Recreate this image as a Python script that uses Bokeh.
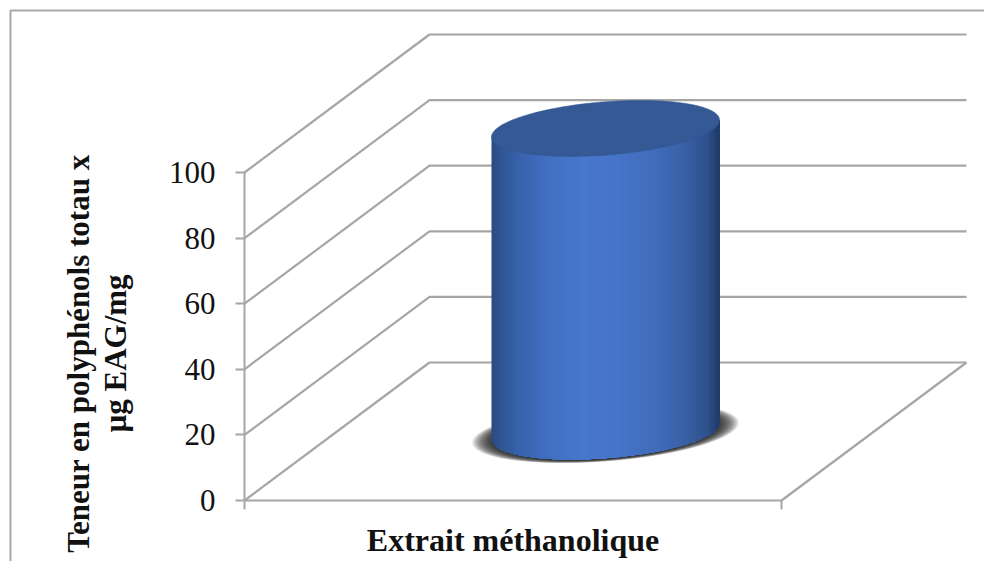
import numpy as np
from bokeh.core.properties import value
from bokeh.embed import file_html
from bokeh.models import FixedTicker, LinearAxis, Range1d
from bokeh.plotting import figure
from bokeh.resources import INLINE

# Chart data
categories = ["Extrait méthanolique"]
series_values = [92.4]
y_ticks = [0, 20, 40, 60, 80, 100]
y_title_lines = ["Teneur en polyphénols totau x", "µg EAG/mg"]

W, H = 984, 561
PX_PER_CAT = 537.0      # width of the category slot
PX_PER_UNIT = 3.28      # pixels per unit on the value axis
ORIGIN_X, ORIGIN_Y = 244.0, 500.0

# Oblique projection used for the fake 3D box (offsets in data units)
DEPTH_X = 185.0 / PX_PER_CAT
DEPTH_Y = 138.0 / PX_PER_UNIT

GRID = "#a6a6a6"
FONT = "Liberation Serif"

p = figure(
    width=W, height=H, output_backend="svg", toolbar_location=None,
    x_range=Range1d(-ORIGIN_X / PX_PER_CAT, (W - ORIGIN_X) / PX_PER_CAT),
    y_range=Range1d((ORIGIN_Y - H) / PX_PER_UNIT, ORIGIN_Y / PX_PER_UNIT),
    x_axis_type=None, y_axis_type=None,
    min_border=0, min_border_left=0, min_border_right=0, min_border_top=0, min_border_bottom=0,
    outline_line_color=None,
)
p.grid.visible = False
p.background_fill_color = "white"
p.border_fill_color = "white"

# Outer chart-area border (top and left edges only show in the window)
x0, x1 = p.x_range.start, p.x_range.end
y0, y1 = p.y_range.start, p.y_range.end
border_x = x0 + 10 / PX_PER_CAT
border_y = y1 - 10 / PX_PER_UNIT
p.line([border_x, border_x, x1], [y0, border_y, border_y], line_color="#a8a8a8", line_width=2)

# Walls: each gridline runs back along the side wall, then across the rear wall
for t in y_ticks:
    p.line([0, DEPTH_X, 1 + DEPTH_X], [t, t + DEPTH_Y, t + DEPTH_Y], line_color=GRID, line_width=2.2)
# Floor front edge and right edge
p.line([0, 1, 1 + DEPTH_X], [0, 0, DEPTH_Y], line_color=GRID, line_width=2.2)

# Value axis
yaxis = LinearAxis(fixed_location=0, ticker=FixedTicker(ticks=y_ticks))
yaxis.axis_line_color = GRID
yaxis.axis_line_width = 2
yaxis.major_tick_line_color = GRID
yaxis.major_tick_line_width = 2
yaxis.major_tick_in = 0
yaxis.major_tick_out = 9
yaxis.minor_tick_line_color = None
yaxis.major_label_text_font = FONT
yaxis.major_label_text_font_size = "31px"
yaxis.major_label_text_color = "#111111"
yaxis.major_label_standoff = 20
yaxis.bounds = (0, 100)
p.add_layout(yaxis, "left")

# Category axis: boundary ticks only, the label is centred on the slot
xaxis = LinearAxis(fixed_location=0, ticker=FixedTicker(ticks=[0, 1]))
xaxis.axis_line_color = None
xaxis.major_tick_line_color = GRID
xaxis.major_tick_line_width = 2
xaxis.major_tick_in = 0
xaxis.major_tick_out = 9
xaxis.minor_tick_line_color = None
xaxis.major_label_overrides = {0: "", 1: ""}
p.add_layout(xaxis, "below")

p.text(
    x=[0.5], y=[0], text=categories, text_font=value(FONT), text_font_style="bold",
    text_font_size="32px", text_color="#111111", text_align="center", text_baseline="middle",
    y_offset=39,
)

# Rotated two-line value-axis title
for line, offset in zip(y_title_lines, (-166, -129)):
    p.text(
        x=[0], y=[50], text=[line], text_font=value(FONT), text_font_style="bold",
        text_font_size="31px", text_color="#111111", text_align="center", text_baseline="middle",
        angle=np.pi / 2, x_offset=offset, y_offset=17,
    )

# Cylinder for the single series: centred in the slot, half way back in the depth
val = series_values[0]
cx = 0.5 + DEPTH_X / 2
base = DEPTH_Y / 2
a = 114.0 / PX_PER_CAT      # half-width
b = 26.7 / PX_PER_UNIT      # ellipse half-height
s = 8.5 / PX_PER_UNIT       # tilt: the right side sits higher


def ellipse(cy, grow_x=1.0, grow_y=1.0):
    t = np.linspace(0, 2 * np.pi, 181)
    return cx + grow_x * a * np.cos(t), cy + grow_x * s * np.cos(t) + grow_y * b * np.sin(t)


# Soft drop shadow under the base, built from stacked translucent ellipses
for g in np.linspace(1.17, 0.98, 26):
    ex, ey = ellipse(base, g, 1 + (g - 1) * 0.45)
    p.patch(ex, ey - 1.2 / PX_PER_UNIT, fill_color="#202020", fill_alpha=0.07, line_color=None)

# Shaded side wall: each band runs to the right edge and the next paints over it
stops_u = [0.0, 0.04, 0.12, 0.25, 0.4, 0.55, 0.72, 0.85, 0.95, 1.0]
stops_rgb = np.array([
    [0x2a, 0x4a, 0x80], [0x30, 0x55, 0x93], [0x38, 0x62, 0xab], [0x41, 0x6f, 0xc2],
    [0x47, 0x78, 0xcc], [0x46, 0x74, 0xc8], [0x41, 0x6c, 0xbb], [0x39, 0x60, 0xa5],
    [0x2d, 0x50, 0x8a], [0x1f, 0x38, 0x64],
], dtype=float)
n = 114
edges = np.linspace(-1, 1, n + 1)
for i in range(n):
    u_left = edges[i]
    um = (edges[i] + edges[i + 1]) / 2
    rgb = [np.interp((um + 1) / 2, stops_u, stops_rgb[:, k]) for k in range(3)]
    col = "#%02x%02x%02x" % tuple(int(round(c)) for c in rgb)
    us = edges[i:]
    low = base + s * us - b * np.sqrt(1 - us ** 2)
    xs = cx + a * us
    top_y = base + val + s * np.array([1.0, u_left])
    p.patch(
        np.concatenate([xs, [cx + a, cx + a * u_left]]),
        np.concatenate([low, top_y]),
        fill_color=col, line_color=None,
    )

# Top cap
ex, ey = ellipse(base + val)
p.patch(ex, ey, fill_color="#345995", line_color="#345995", line_width=0.5)

open("out.html", "w").write(file_html(p, INLINE))
